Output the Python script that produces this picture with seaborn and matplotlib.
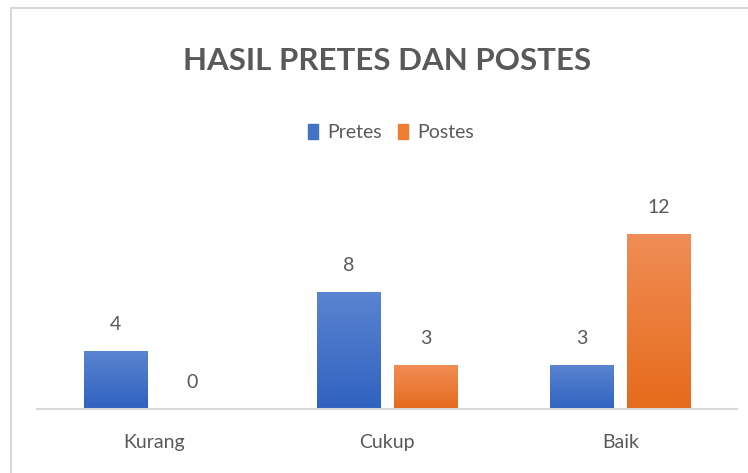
import numpy as np
import pandas as pd
import matplotlib
matplotlib.use('Agg')
import matplotlib.pyplot as plt
import seaborn as sns
from matplotlib.colors import LinearSegmentedColormap
from matplotlib.patches import Rectangle

sns.set_theme(style='white')
plt.rcParams['font.family'] = ['Lato', 'DejaVu Sans']

categories = ['Kurang', 'Cukup', 'Baik']
series = ['Pretes', 'Postes']
pretes = [4, 8, 3]
postes = [0, 3, 12]

df = pd.DataFrame({
    'kategori': categories * 2,
    'tes': ['Pretes'] * 3 + ['Postes'] * 3,
    'nilai': pretes + postes,
})

BLUE = '#4472C4'
ORANGE = '#ED7D31'
GRADS = {
    'Pretes': ('#5b84d1', '#2f62c0'),
    'Postes': ('#f08d56', '#e66b1b'),
}
TEXT = '#595959'

fig = plt.figure(figsize=(7.48, 4.73), dpi=100)
ax = fig.add_axes([37 / 748, (473 - 409) / 473, 700 / 748, 0.432])

sns.barplot(data=df, x='kategori', y='nilai', hue='tes', order=categories,
            hue_order=series, palette=[BLUE, ORANGE], width=0.66, gap=0.18,
            legend=False, ax=ax)

# gradient fill like the spreadsheet original
for cont, name in zip(ax.containers, series):
    top, bot = GRADS[name]
    cmap = LinearSegmentedColormap.from_list(name, [bot, top])
    for bar in cont:
        h = bar.get_height()
        if h <= 0:
            continue
        x0 = bar.get_x()
        w = bar.get_width()
        bar.set_facecolor('none')
        bar.set_edgecolor('none')
        im = ax.imshow(np.linspace(0, 1, 100).reshape(-1, 1), cmap=cmap,
                       origin='lower', extent=[x0, x0 + w, 0, h],
                       aspect='auto', zorder=2)
        im.set_clip_path(bar)
    ax.bar_label(cont, labels=[str(int(b.get_height())) for b in cont],
                 padding=13, fontsize=14, color=TEXT)

ax.set_xlim(-0.5, 2.5)
ax.set_ylim(0, 14)
ax.set_xlabel('')
ax.set_ylabel('')
ax.set_yticks([])
ax.tick_params(axis='x', length=0, labelsize=14, labelcolor=TEXT, pad=18)
for s in ['top', 'right', 'left']:
    ax.spines[s].set_visible(False)
ax.spines['bottom'].set_color('#d9d9d9')
ax.spines['bottom'].set_linewidth(1.5)

fig.text(0.517, 0.87, 'HASIL PRETES DAN POSTES', ha='center', va='center',
         fontsize=22.5, fontweight='bold', color=TEXT)

handles = [Rectangle((0, 0), 1, 1, color=BLUE), Rectangle((0, 0), 1, 1, color=ORANGE)]
fig.legend(handles, series, loc='center', bbox_to_anchor=(0.523, 0.72), ncol=2,
           frameon=False, fontsize=14, handlelength=0.5, handleheight=0.8,
           handletextpad=0.5, columnspacing=0.8, labelcolor=TEXT)

fig.patches.append(Rectangle((10.5 / 748, -0.1), 1.2, 1.1 - 8 / 473,
                             transform=fig.transFigure, fill=False,
                             edgecolor='#d9d9d9', linewidth=1.5))

fig.savefig('out.png', dpi=100)
